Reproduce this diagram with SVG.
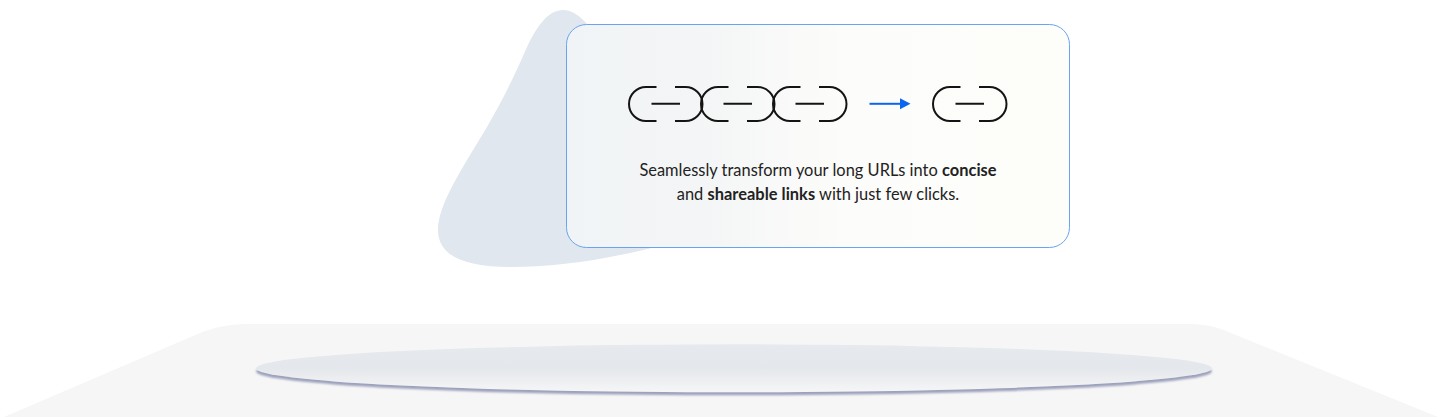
<svg xmlns="http://www.w3.org/2000/svg" width="1440" height="417" viewBox="0 0 1440 417">
<style>
.ic{fill:none;stroke:#141414;stroke-width:2}
.t{font-family:"Lato","Noto Sans",sans-serif;font-size:16.4px;fill:#222;text-anchor:middle;letter-spacing:.02px}
.b{font-weight:700}
</style>
<defs>
<linearGradient id="card" x1="0" y1="0" x2="1" y2="0"><stop offset="0" stop-color="#f1f4f6"/><stop offset="0.25" stop-color="#f3f5f6"/><stop offset="0.55" stop-color="#fcfcfa"/><stop offset="1" stop-color="#fdfdfa"/></linearGradient>
<linearGradient id="disk" x1="0" y1="0" x2="0" y2="1"><stop offset="0" stop-color="#e6e9ed"/><stop offset="0.5" stop-color="#e4e7eb"/><stop offset="1" stop-color="#f6f6f7"/></linearGradient>
<filter id="sh" x="-2%" y="-20%" width="104%" height="140%"><feDropShadow dx="0" dy="3" stdDeviation="1.3" flood-color="#9ba0bb"/></filter>
<g id="link"><path class="ic" d="M656.5 87H646a17 17 0 0 0 0 34H656.5M651.5 103.8H680M675 87H685.5a17 17 0 0 1 0 34H675"/></g>
</defs>
<g id="platform"><path d="M4 417L200 333C218 326 232 324 250 324H1187C1204 324 1215 326 1231 333L1438 417Z" fill="#f6f6f7"/></g>
<g id="disk-shape"><ellipse cx="734" cy="368.3" rx="478" ry="24" fill="url(#disk)" filter="url(#sh)"/></g>
<g id="blob"><path d="M563 10C573 10 581 17 589 26L680 240C620 258 560 267 510 267C465 267 438 256 438 230C438 205 460 172 487 127C505 96 517 70 527 47C538 24 549 10 563 10Z" fill="#e1e7ef"/></g>
<g id="card-node"><rect x="566.5" y="24.5" width="503" height="223" rx="20" fill="url(#card)" stroke="#6aa3f0"/>
<text class="t" x="818" y="176">Seamlessly transform your long URLs into <tspan class="b">concise</tspan></text>
<text class="t" x="818" y="200">and <tspan class="b">shareable links</tspan> with just few clicks.</text></g>
<g id="icon-long"><use href="#link"/><use href="#link" x="72"/><use href="#link" x="144"/></g>
<g id="icon-short"><use href="#link" x="304"/></g>
<g id="connectors"><path d="M869.5 103.8H901" fill="none" stroke="#0a66f0" stroke-width="2"/><path d="M900 98.3L910.5 103.8L900 109.3Z" fill="#0a66f0"/></g>
</svg>
